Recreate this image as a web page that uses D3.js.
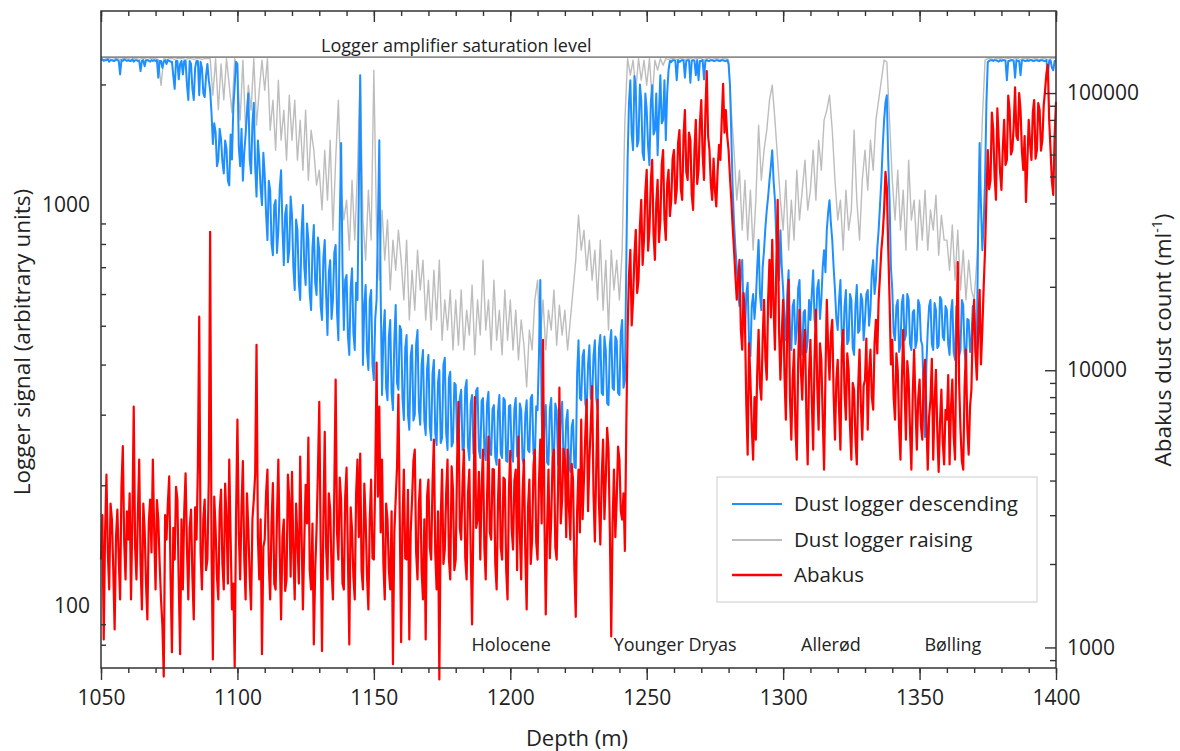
<!DOCTYPE html>
<html>
<head>
<meta charset="utf-8">
<script src="https://cdn.jsdelivr.net/npm/d3@7"></script>
<style>
  body { margin: 0; background: #fff; }
  svg text { font-family: "Open Sans", sans-serif; fill: #222; }
</style>
</head>
<body>
<svg id="chart"></svg>
<script>
// all three records start at 1050 m
const DEPTH_START = 1050;
const DESC_STEP   = 0.5;   // m between descending logger samples
const RAISE_STEP  = 1;     // m between raising logger samples
const ABAKUS_STEP = 0.5;   // m between Abakus samples

// Dust logger, descending run (left axis, arbitrary units), one row per 10 m
const descending = [
  2300,2310,2290,2300,2300,2310,2280,2300,2300,2290,2290,2310,2300,2290,2120,2300,2290,2310,2300,2290,
  2300,2290,2290,2310,2280,2300,2300,2290,2290,2160,2290,2300,2220,2300,2300,2290,2280,2300,2290,2300,
  2290,2300,2080,2290,2290,2200,2280,2300,2250,2300,2290,2280,2280,2100,1950,2290,2290,2060,2250,2290,
  2120,2290,2290,2000,1830,2290,2250,1950,1830,2200,2290,2290,1880,2280,2200,1900,1860,2100,2250,2050,
  1935,1700,1420,1600,1520,1250,1300,1550,1460,1280,1200,1450,1380,1150,1120,1500,1300,1750,1990,2280,
  2250,1400,1250,1550,1150,1350,1500,1700,1900,1300,1200,1600,1800,1250,1050,1450,1300,1100,1000,1350,
  1190,950,818,1150,1090,800,750,1000,1029,760,866,1100,1222,880,708,950,1000,720,772,1050,
  944,700,614,920,866,640,580,850,1000,700,632,900,818,600,547,780,892,640,597,830,
  772,560,517,740,818,600,474,680,729,520,580,760,795,540,460,900,1428,700,488,650,
  669,470,423,620,696,480,435,640,580,1100,2110,900,399,560,632,430,388,580,614,400,
  366,520,580,900,1452,600,336,480,547,350,326,470,517,340,308,460,563,360,346,500,
  488,330,291,440,474,300,275,420,447,290,300,450,488,310,283,400,435,290,267,390,
  423,280,259,380,411,270,252,360,388,255,262,400,416,270,245,370,384,250,256,360,
  356,260,238,330,346,245,248,350,366,250,231,320,336,240,242,345,350,245,234,325,
  330,245,231,320,342,240,238,310,317,235,225,305,336,240,234,330,326,230,229,315,
  317,240,229,310,330,236,238,320,308,232,225,300,326,245,242,330,336,240,231,315,
  308,420,650,300,231,290,317,228,225,310,330,235,234,320,308,226,221,300,323,232,
  225,290,308,224,216,280,291,222,221,380,460,330,326,420,435,320,308,400,447,330,
  326,420,460,330,308,440,474,340,336,470,435,320,317,450,488,350,346,470,460,340,
  336,480,517,350,366,700,1295,1800,2049,1500,1371,2100,1935,1400,1452,2000,1827,1350,1295,1900,
  1726,1400,1258,1800,1991,1500,1538,1900,1332,1700,2110,1600,1629,2050,1452,1900,2171,2290,2275,2300,
  2299,2290,2049,2300,2275,2290,2299,2300,2080,2290,2299,2300,2020,2290,2299,2290,2110,2300,2049,2290,
  2290,2300,2060,2290,2300,2290,2290,2300,2300,2290,2290,2300,2300,2290,2290,2300,2300,2290,2290,2300,
  2250,2000,1500,1100,900,780,700,600,560,680,730,520,480,600,640,450,420,560,600,520,
  580,700,818,600,547,700,772,880,972,1050,1154,1250,1371,1150,1029,820,729,650,866,700,
  614,520,460,600,688,480,435,560,580,450,488,620,650,470,423,540,547,430,460,580,
  517,600,688,520,488,620,650,520,580,700,772,680,866,960,1029,900,818,700,614,520,
  488,580,650,470,435,560,614,450,460,600,580,440,423,560,632,480,488,600,580,460,
  517,600,614,500,547,680,729,600,650,780,866,1000,1154,1400,1629,1800,1880,1300,1029,700,
  614,480,460,560,580,430,447,570,597,460,474,600,580,450,435,540,547,440,460,580,
  563,460,447,340,264,400,488,560,580,450,435,570,547,440,447,590,580,470,460,560,
  547,450,423,540,580,430,411,560,517,420,435,580,563,430,399,520,517,430,460,560,
  547,430,460,900,1428,1000,772,900,1154,1800,2275,2290,2299,2300,2290,2300,2299,2290,2280,2300,
  2290,2300,2299,2290,2049,2290,2290,2300,2299,2290,2080,2300,2290,2290,2110,2300,2299,2290,2290,2300,
  2290,2300,2299,2290,2290,2300,2299,2290,2290,2300,2299,2290,2290,2300,2110,2290,2299,2200,2171,2290,
  2290
];

// Dust logger, raising run (left axis)
const raising = [
  2320,2310,2320,2320,2310,2320,2320,2310,2320,2320,
  2320,2310,2320,2320,2310,2320,2320,2310,2320,2320,
  2320,2310,1990,2320,2310,2320,2320,2310,2320,2320,
  2320,2310,2320,2320,2310,2320,2320,2310,2320,2320,
  2320,1880,2320,1730,2250,1830,2320,1990,1700,2320,
  2171,1629,2299,1538,1991,1726,2320,1583,1935,2299,
  1935,2320,1538,1827,1371,2049,1452,1726,1295,1880,
  1452,1827,1295,1629,1222,1726,1154,1538,1371,1122,
  1222,972,1371,1029,1452,866,1295,1827,1090,918,
  1029,772,1154,818,1222,2110,918,729,1090,818,
  2171,866,650,972,729,918,614,818,688,866,
  729,580,818,517,688,547,772,614,729,517,
  650,488,688,517,729,460,580,488,614,435,
  580,447,614,435,547,474,632,423,580,474,
  729,488,580,435,650,460,547,423,614,460,
  580,435,547,411,517,447,352,488,435,580,
  650,460,580,435,547,488,614,447,563,474,
  547,435,517,614,729,944,772,866,688,818,
  650,772,580,818,547,729,488,772,614,729,
  580,772,1629,2320,2110,2299,1935,2320,2049,2299,
  1991,2320,1827,2299,2171,2320,2233,2320,2310,2320,
  2320,2310,2320,2320,2310,2320,2320,2310,2320,2320,
  2320,2310,2320,2320,2310,2320,2320,2310,2320,2320,
  2310,1726,1371,1029,1222,866,1154,818,1090,772,
  1029,1583,1154,1371,1538,1827,1991,1629,1295,1029,
  866,1154,772,1029,818,1222,918,1090,1295,972,
  1090,1371,1029,1452,1222,1629,1726,1880,1538,1154,
  918,1029,772,1090,866,972,1538,1029,818,1154,
  1371,1090,1452,1222,1629,1827,2049,2299,2275,1629,
  1154,918,1222,866,1090,772,1295,918,1029,772,
  1029,818,1090,772,972,866,1059,750,944,818,
  818,688,892,650,866,614,772,580,729,614,
  580,729,1029,1629,2299,2320,2320,2310,2320,2320,
  2320,2310,2320,2320,2310,2320,2320,2310,2320,2320,
  2320,2310,2320,2320,2310,2320,2320,2310,2320,2320,2320
];

// Abakus dust count (right axis, per ml), one row per 10 m
const abakus = [
  2075,3000,1069,2600,4200,2200,1618,3300,2893,1900,1161,2500,3140,2100,1489,3800,5320,2400,1758,3100,
  2450,3600,1489,2900,7400,2300,1758,3000,4760,2000,1371,3300,2663,1700,1262,2800,3415,2200,4760,2600,
  1618,3400,2893,2000,1489,1200,785,3000,2450,3300,4140,1800,960,2700,2075,3800,3415,1700,945,2900,
  1618,3100,4250,2300,1489,2700,3140,1800,1262,3200,2450,4400,15600,2200,1618,2900,3415,1900,2075,4000,
  31600,2300,905,3500,2663,1800,1489,3100,3710,2000,1618,3900,2893,1700,4760,2500,1371,1700,850,3000,
  6630,2600,1758,3200,4700,2100,1489,3600,2663,1800,1371,2900,3415,4200,12360,2500,1758,2900,945,2300,
  2450,3600,4380,2000,1489,2800,3920,1700,1618,3000,4760,2200,1262,2500,2893,1600,1758,4200,3415,1800,
  4300,2200,1489,3300,2450,1700,4880,2600,1371,2400,3860,2800,5720,1900,1618,2800,1025,1900,2663,4300,
  7690,2400,970,2900,6000,2300,1758,3600,3140,1900,1489,3700,9250,2600,2075,4100,3415,1700,1618,3500,
  4450,2100,1025,3200,2663,1800,1489,3600,4760,2500,5000,1900,1618,3900,2893,1800,1371,2900,4030,2100,
  2075,4000,10650,3500,7400,2600,4760,2000,1489,3300,2893,1900,1618,3100,870,2600,3415,4500,8170,2900,
  1045,2800,4380,2100,2075,3700,1069,2600,3415,4700,5170,2200,1758,3300,4030,1900,1489,2900,1069,3500,
  4030,2300,2075,3900,5620,2200,1618,3100,767,2900,4380,2000,2255,3600,4760,2100,1758,4500,3710,1900,
  2075,4600,7690,2700,2450,3900,5170,2100,1758,3600,4380,2200,1210,3000,8000,2700,2893,4300,2075,3800,
  5170,2300,1758,3500,5760,2600,2450,4400,4380,2000,1618,3400,4760,2300,2075,4100,4030,1900,1489,3700,
  5120,2700,2255,4000,4380,1900,5760,2600,1758,3600,4760,2200,1371,3200,4030,2000,2450,4500,5170,2400,
  2075,3900,5620,2800,12880,3000,1315,2700,4380,2100,2893,4800,5170,2300,2075,3700,8650,2800,3415,5200,
  4760,2500,5170,3200,2450,4600,4030,1900,1290,3100,4380,2600,6630,2900,4030,5900,7830,3100,4760,6400,
  8760,3600,2410,4400,7830,3300,2350,4100,5620,2900,4030,6200,5170,2600,1095,2800,4380,2500,3415,5300,
  4760,3100,2893,3600,2230,6000,14000,22000,27200,14500,17960,26000,32100,19000,21200,33000,41200,24000,29540,44000,
  52800,27000,32100,48000,57360,31000,25020,40000,48600,29000,34850,55000,62300,35000,29540,47000,52800,36000,41200,58000,
  62300,40000,44720,66000,73560,45000,41200,70000,86860,52000,48600,72000,67700,43000,37880,62000,80000,47000,52800,78000,
  94400,60000,48600,85000,120000,70000,62300,47000,41200,58000,44720,39000,52800,65000,57360,80000,108000,72000,86860,70000,
  62300,50000,41200,33000,27200,22000,17960,21000,25020,14000,11860,19000,15200,7500,4960,12500,9250,6200,4760,8000,
  5620,9800,14000,8800,7830,13000,17960,11000,9250,18000,25020,15500,29540,17000,11860,24000,41200,14000,9250,13500,
  17960,9500,6630,14500,21200,8000,5620,9300,11860,6200,4760,10500,16520,10000,7830,12200,14000,7000,4570,9800,
  12880,7800,5170,11000,16520,8800,6100,12500,10910,6800,4380,9500,17960,12000,9250,13500,15200,8200,5620,9200,
  10910,7200,5170,12000,14000,8300,6630,11500,10040,6300,4760,9000,8510,5700,4570,8700,11860,7400,5620,8800,
  9250,13000,6100,9900,11860,8000,7210,12500,15200,11500,17960,22000,27200,31000,37880,52000,45800,28000,17960,10500,
  12880,8000,6630,11500,10040,6200,4760,9100,14000,8700,5620,10800,9250,6000,4380,8200,11860,7500,5170,7900,
  9250,6300,5620,9700,10910,6600,4380,6800,7830,11000,4760,7700,10040,6000,4300,6500,8510,5500,4570,7200,
  6630,9600,4570,7300,9250,5800,4760,13000,24560,9000,6100,4700,4380,8700,11860,6200,4960,7400,8510,14500,
  17960,11500,9250,14000,19510,10500,14000,20000,27200,42000,62300,45000,48600,85000,73560,50000,41200,88000,67700,52000,
  44720,63000,80000,55000,57360,98000,86860,60000,62300,76000,104800,70000,67700,100000,86860,62000,52800,70000,40500,56000,
  80000,66000,57360,85000,94400,58000,62300,92000,86860,62000,67700,90000,102500,118000,126200,80000,62300,48000,42900,70000,
  93000
];

const SATURATION = 2340;

const X_MAJOR     = [1050, 1100, 1150, 1200, 1250, 1300, 1350, 1400];
const X_MINOR     = d3.range(1050, 1401, 10);
const LEFT_MAJOR  = [100, 1000];
const LEFT_MINOR  = [80, 90, 200, 300, 400, 500, 600, 700, 800, 900, 2000];
const RIGHT_MAJOR = [1000, 10000, 100000];
const RIGHT_MINOR = [900, 2000, 3000, 4000, 5000, 6000, 7000, 8000, 9000,
                     20000, 30000, 40000, 50000, 60000, 70000, 80000, 90000];

const ERA_LABELS = ["Holocene", "Younger Dryas", "Allerød", "Bølling"];
const ERA_DEPTHS = [1200.3, 1260.4, 1317.5, 1362.2];

const SERIES_NAMES  = ["Dust logger descending", "Dust logger raising", "Abakus"];
const SERIES_COLORS = ["#1e8fff", "#bdbdbd", "#ff0000"];

// ---- layout
const W = 1180, H = 751;
const PL = 101, PR = 1056, PT = 11, PB = 668;

const svg = d3.select("#chart").attr("width", W).attr("height", H);

const x  = d3.scaleLinear().domain([1050, 1400]).range([PL, PR]);
const yL = d3.scaleLog().domain([70, 3050]).range([PB, PT]);
const yR = d3.scaleLog().domain([843, 197700]).range([PB, PT]);

// saturation level
svg.append("line")
  .attr("x1", PL).attr("x2", PR)
  .attr("y1", yL(SATURATION)).attr("y2", yL(SATURATION))
  .attr("stroke", "#8c8c8c").attr("stroke-width", 1.6);

svg.append("text")
  .attr("x", 321).attr("y", yL(SATURATION) - 5)
  .attr("font-size", 18)
  .text("Logger amplifier saturation level");

// data lines: raising under descending under abakus
function seriesLine(step, y) {
  return d3.line().x((d, i) => x(DEPTH_START + i * step)).y((d) => y(d));
}

svg.append("path").datum(raising)
  .attr("d", seriesLine(RAISE_STEP, yL)).attr("fill", "none")
  .attr("stroke", SERIES_COLORS[1]).attr("stroke-width", 1.4)
  .attr("stroke-linejoin", "round");

svg.append("path").datum(descending)
  .attr("d", seriesLine(DESC_STEP, yL)).attr("fill", "none")
  .attr("stroke", SERIES_COLORS[0]).attr("stroke-width", 2)
  .attr("stroke-linejoin", "round");

svg.append("path").datum(abakus)
  .attr("d", seriesLine(ABAKUS_STEP, yR)).attr("fill", "none")
  .attr("stroke", SERIES_COLORS[2]).attr("stroke-width", 2.2)
  .attr("stroke-linejoin", "round");

// ---- axes
function styleAxis(g) {
  g.select(".domain").remove();
  g.selectAll(".tick line").attr("stroke", "#333").attr("stroke-width", 1.4);
  g.selectAll(".tick text")
    .attr("font-family", "Open Sans, sans-serif")
    .attr("font-size", 21).attr("fill", "#222");
}

// bottom: outward ticks
svg.append("g").attr("transform", `translate(0,${PB})`)
  .call(d3.axisBottom(x).tickValues(X_MINOR).tickSize(5).tickFormat(""))
  .call(styleAxis);
svg.append("g").attr("transform", `translate(0,${PB})`)
  .call(d3.axisBottom(x).tickValues(X_MAJOR).tickSize(12).tickPadding(10).tickFormat(d3.format("d")))
  .call(styleAxis);

// top: mirrored, inward
svg.append("g").attr("transform", `translate(0,${PT})`)
  .call(d3.axisBottom(x).tickValues(X_MINOR).tickSize(5).tickFormat(""))
  .call(styleAxis);
svg.append("g").attr("transform", `translate(0,${PT})`)
  .call(d3.axisBottom(x).tickValues(X_MAJOR).tickSize(11).tickFormat(""))
  .call(styleAxis);

// left: inward minor ticks, labels at decades
svg.append("g").attr("transform", `translate(${PL},0)`)
  .call(d3.axisRight(yL).tickValues(LEFT_MINOR).tickSize(5).tickFormat(""))
  .call(styleAxis);
svg.append("g").attr("transform", `translate(${PL},0)`)
  .call(d3.axisLeft(yL).tickValues(LEFT_MAJOR).tickSize(0).tickPadding(11).tickFormat(d3.format("d")))
  .call(styleAxis);

// right: inward ticks
svg.append("g").attr("transform", `translate(${PR},0)`)
  .call(d3.axisLeft(yR).tickValues(RIGHT_MINOR).tickSize(6).tickFormat(""))
  .call(styleAxis);
svg.append("g").attr("transform", `translate(${PR},0)`)
  .call(d3.axisLeft(yR).tickValues(RIGHT_MAJOR).tickSize(11).tickFormat(""))
  .call(styleAxis);
svg.append("g").attr("transform", `translate(${PR},0)`)
  .call(d3.axisRight(yR).tickValues(RIGHT_MAJOR).tickSize(0).tickPadding(11).tickFormat(d3.format("d")))
  .call(styleAxis);

// frame
svg.append("rect")
  .attr("x", PL).attr("y", PT)
  .attr("width", PR - PL).attr("height", PB - PT)
  .attr("fill", "none").attr("stroke", "#333").attr("stroke-width", 1.5);

// era labels
ERA_LABELS.forEach((label, i) => {
  svg.append("text")
    .attr("x", x(ERA_DEPTHS[i])).attr("y", 651)
    .attr("text-anchor", "middle")
    .attr("font-size", 18)
    .text(label);
});

// axis titles
svg.append("text")
  .attr("x", 577).attr("y", 746)
  .attr("text-anchor", "middle").attr("font-size", 22)
  .text("Depth (m)");

svg.append("text")
  .attr("transform", "translate(30,342) rotate(-90)")
  .attr("text-anchor", "middle").attr("font-size", 22.5)
  .text("Logger signal (arbitrary units)");

const rt = svg.append("text")
  .attr("transform", "translate(1171,340) rotate(-90)")
  .attr("text-anchor", "middle").attr("font-size", 22.5);
rt.append("tspan").text("Abakus dust count (ml");
rt.append("tspan").attr("font-size", 14).attr("dy", -9).text("-1");
rt.append("tspan").attr("dy", 9).text(")");

// legend
const lg = svg.append("g").attr("transform", "translate(717,477)");
lg.append("rect")
  .attr("width", 320).attr("height", 125)
  .attr("fill", "#fff").attr("stroke", "#d4d4d4").attr("stroke-width", 1.2);
const LEG_Y = [27, 63, 98];
const LEG_W = [2, 2, 2.6];
SERIES_NAMES.forEach((name, i) => {
  lg.append("line")
    .attr("x1", 15).attr("x2", 65)
    .attr("y1", LEG_Y[i]).attr("y2", LEG_Y[i])
    .attr("stroke", SERIES_COLORS[i]).attr("stroke-width", LEG_W[i]);
  lg.append("text")
    .attr("x", 77).attr("y", LEG_Y[i] + 7)
    .attr("font-size", 20.5)
    .text(name);
});
</script>
</body>
</html>
